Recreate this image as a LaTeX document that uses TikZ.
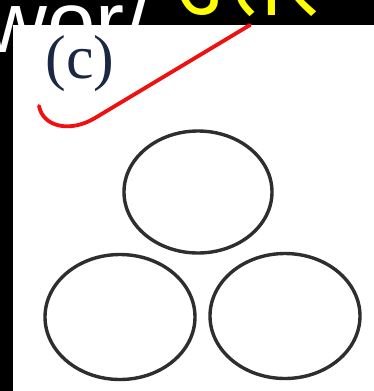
\documentclass[tikz,border=0pt]{standalone}
\usepackage{fontspec}
\setmainfont{Liberation Serif}
\newfontfamily\arialfont{Liberation Sans}
\newfontfamily\devfont[Script=Devanagari]{Noto Sans}
\usetikzlibrary{shapes.geometric}
\definecolor{labelnavy}{HTML}{1B2844}
\definecolor{ringgray}{HTML}{2E2E2E}
\definecolor{markred}{HTML}{F01010}
\definecolor{hiyellow}{HTML}{FFFF00}
\tikzset{
  ring/.style={draw=ringgray, line width=3.4pt, ellipse, minimum width=148pt, minimum height=122pt, inner sep=0pt},
  redmark/.style={draw=markred, line width=3.8pt, line cap=round, line join=round},
}
\begin{document}
\begin{tikzpicture}[x=1pt,y=-1pt]
\useasboundingbox (0,0) rectangle (374,391);
\fill[black] (0,0) rectangle (374,391);
\begin{scope}
\clip (0,0) rectangle (374,391);
\node[anchor=base west, inner sep=0pt, text=hiyellow, font=\devfont\fontsize{88}{88}\selectfont] (hindi) at (174,15) {उत्तर};
\end{scope}
\fill[white] (13,25) rectangle (374,391);
\begin{scope}
\clip (0,0) rectangle (374,391);
\node[anchor=base west, inner sep=0pt, text=white, font=\arialfont\fontsize{87}{87}\selectfont] (word) at (-16,52) {wor/};
\end{scope}
\node[anchor=base, inner sep=0pt, text=labelnavy, font=\fontsize{62}{62}\selectfont] (label) at (80,78) {(c)};
\coordinate (r1) at (39,106);
\coordinate (r2) at (95,118);
\coordinate (r3) at (250,25);
\draw[redmark] (r1) .. controls (43,127) and (70,133) .. (r2) -- (r3);
\node[ring] (top) at (198,192) {};
\node[ring, minimum width=150pt, minimum height=125pt] (left) at (120,317) {};
\node[ring, minimum width=150pt, minimum height=125pt] (right) at (285,316) {};
\end{tikzpicture}
\end{document}
